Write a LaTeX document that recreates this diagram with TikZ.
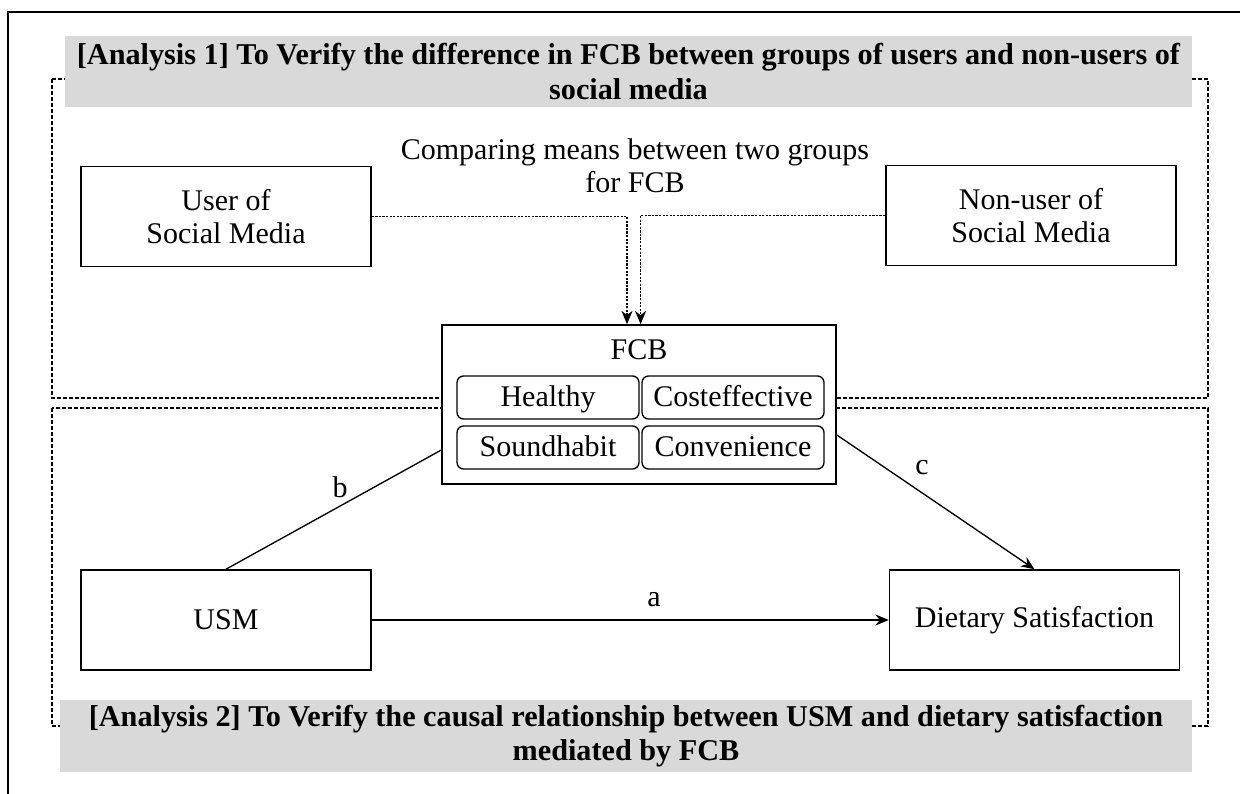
\documentclass[tikz,border=0pt]{standalone}
\usepackage{fontspec}
\setmainfont{Liberation Serif}
\usetikzlibrary{arrows.meta}
\definecolor{headgray}{HTML}{D9D9D9}
\begin{document}
\begin{tikzpicture}[x=0.45pt, y=-0.45pt, >={Stealth[length=6pt,width=5pt]},
  font=\fontsize{13.5}{15}\selectfont,
  box/.style={draw, line width=0.7pt, fill=white, align=center, inner sep=0pt,
    minimum width=130.5pt, minimum height=45pt},
  subbox/.style={draw, line width=0.6pt, rounded corners=3pt, inner sep=0pt,
    minimum width=81.9pt, minimum height=19.4pt, text height=11.4pt, text depth=3pt},
  head/.style={fill=headgray, align=center, inner sep=0pt, minimum height=32pt,
    font=\fontsize{13.6}{15.5}\selectfont\bfseries},
  frame/.style={draw, line width=0.6pt, dash pattern=on 1.8pt off 0.9pt},
  feed/.style={line width=0.5pt, dash pattern=on 1pt off 0.6pt},
  link/.style={line width=0.6pt}]
  \useasboundingbox (0,0) rectangle (1240,794);
  % outer frame (open at right and bottom)
  \draw[line width=0.8pt] (8,794) -- (8,12) -- (1240,12);
  % two dashed analysis frames
  \draw[frame] (52,79) rectangle (1208,398);
  \draw[frame] (52,408) rectangle (1208,726);
  % headings
  \node[head, minimum width=507pt] (head1) at (628.5,71.5)
    {[Analysis 1] To Verify the difference in FCB between groups of users and non-users of\\social media};
  \node[head, minimum width=509.4pt] (head2) at (626,736)
    {[Analysis 2] To Verify the causal relationship between USM and dietary satisfaction\\mediated by FCB};
  % analysis 1
  \node[box] (user) at (226,216.5) {User of\\Social Media};
  \node[box] (nonuser) at (1031,215.5) {Non-user of\\Social Media};
  \node[align=center] (compare) at (635,166) {Comparing means between two groups\\for FCB};
  % mediator block
  \node[box, minimum width=177.3pt, minimum height=71.6pt] (fcb) at (639,404.5) {};
  \node (fcbname) at (639,350) {FCB};
  \node[subbox] (healthy) at (548,397.5) {Healthy};
  \node[subbox] (cost) at (733,397.5) {Costeffective};
  \node[subbox] (sound) at (548,447.5) {Soundhabit};
  \node[subbox] (conv) at (733,447.5) {Convenience};
  \draw[feed,->] (user.east) -| ([xshift=-5.4pt]fcb.north);
  \draw[feed,->] (nonuser.west) -| ([xshift=0.7pt]fcb.north);
  % analysis 2
  \node[box] (usm) at (226,620) {USM};
  \node[box] (diet) at (1034.5,620) {Dietary Satisfaction};
  \draw[link,->] (usm.east) -- (diet.west);
  \draw[link] (usm.north) -- ([yshift=-20.5pt]fcb.west);
  \draw[link,->] ([yshift=-13.7pt]fcb.east) -- (diet.north);
  \node (la) at (654,600) {a};
  \node (lb) at (340,487) {b};
  \node (lc) at (922,468) {c};
\end{tikzpicture}
\end{document}
